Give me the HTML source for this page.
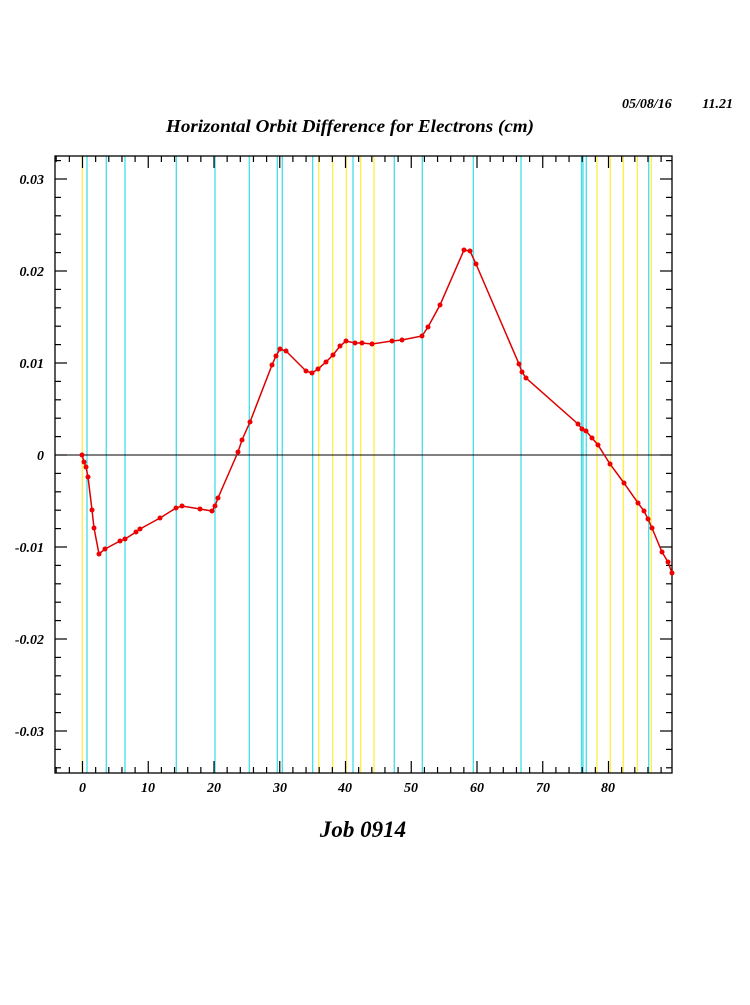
<!DOCTYPE html>
<html><head><meta charset="utf-8"><style>
html,body{margin:0;padding:0;background:#fff;}
svg text{font-family:"Liberation Serif",serif;font-weight:bold;font-style:italic;}
</style></head><body>
<svg width="750" height="1000" viewBox="0 0 750 1000" xmlns="http://www.w3.org/2000/svg">
<rect width="750" height="1000" fill="#fff"/>
<text x="622" y="108" font-size="14">05/08/16</text>
<text x="733" y="108" font-size="14" text-anchor="end">11.21</text>
<text x="166" y="132" font-size="18" textLength="368" lengthAdjust="spacingAndGlyphs">Horizontal Orbit Difference for Electrons (cm)</text>
<g stroke-width="1.3">
<g stroke="#ffee44">
<line x1="82.3" y1="156" x2="82.3" y2="773"/><line x1="318.7" y1="156" x2="318.7" y2="773"/><line x1="332.7" y1="156" x2="332.7" y2="773"/><line x1="346.3" y1="156" x2="346.3" y2="773"/><line x1="360.7" y1="156" x2="360.7" y2="773"/><line x1="374" y1="156" x2="374" y2="773"/><line x1="597" y1="156" x2="597" y2="773"/><line x1="610.3" y1="156" x2="610.3" y2="773"/><line x1="623.3" y1="156" x2="623.3" y2="773"/><line x1="637.3" y1="156" x2="637.3" y2="773"/><line x1="651.3" y1="156" x2="651.3" y2="773"/>
</g>
<g stroke="#44dde8">
<line x1="87" y1="156" x2="87" y2="773"/><line x1="106.3" y1="156" x2="106.3" y2="773"/><line x1="125" y1="156" x2="125" y2="773"/><line x1="176.3" y1="156" x2="176.3" y2="773"/><line x1="215" y1="156" x2="215" y2="773"/><line x1="249.3" y1="156" x2="249.3" y2="773"/><line x1="277.3" y1="156" x2="277.3" y2="773"/><line x1="282.3" y1="156" x2="282.3" y2="773"/><line x1="312.7" y1="156" x2="312.7" y2="773"/><line x1="353" y1="156" x2="353" y2="773"/><line x1="394.3" y1="156" x2="394.3" y2="773"/><line x1="422.3" y1="156" x2="422.3" y2="773"/><line x1="473.3" y1="156" x2="473.3" y2="773"/><line x1="521" y1="156" x2="521" y2="773"/><line x1="581.5" y1="156" x2="581.5" y2="773"/><line x1="583" y1="156" x2="583" y2="773"/><line x1="586.3" y1="156" x2="586.3" y2="773"/><line x1="648.7" y1="156" x2="648.7" y2="773"/>
</g>
</g>
<line x1="55" y1="455" x2="672" y2="455" stroke="#000" stroke-width="1"/>
<rect x="55" y="156" width="617" height="617" fill="none" stroke="#000" stroke-width="1.3"/>
<g id="ticks" stroke="#000" stroke-width="1.2"></g>
<g font-size="14" text-anchor="end">
<text x="44" y="184">0.03</text><text x="44" y="276">0.02</text><text x="44" y="368">0.01</text><text x="44" y="460">0</text><text x="44" y="552">-0.01</text><text x="44" y="644">-0.02</text><text x="44" y="736">-0.03</text>
</g>
<g font-size="14" text-anchor="middle">
<text x="82.5" y="792">0</text><text x="148" y="792">10</text><text x="214" y="792">20</text><text x="280" y="792">30</text><text x="345" y="792">40</text><text x="411" y="792">50</text><text x="477" y="792">60</text><text x="543" y="792">70</text><text x="608" y="792">80</text>
</g>
<text x="363" y="837" font-size="23" text-anchor="middle">Job 0914</text>
<polyline id="curve" fill="none" stroke="#dd0000" stroke-width="1.5" points="82,455 84,462 86,467 88,477 92,510 94,528 99,554 105,549 120,541 125,539 136,532 140,529 160,518 176,508 182,506 200,509 212,511 215,506 218,498 238,452 242,440 250,422 272,365 276,356 280,349 286,351 306,371 312,373 318,369 326,362 333,355 340,346 346,341 355,343 362,343 372,344 392,341 402,340 422,336 428,327 440,305 464,250 470,251 476,264 519,364 522,372 526,378 578,424 582,429 586,431 592,438 598,445 610,464 624,483 638,503 644,511 648,519 652,528 662,552 668,562 672,573"/>
<g id="dots" fill="#ee0000"></g>
</svg>
<script>
var ns="http://www.w3.org/2000/svg",t=document.getElementById("ticks");
function L(a,b,c,d){var l=document.createElementNS(ns,"line");l.setAttribute("x1",a);l.setAttribute("y1",b);l.setAttribute("x2",c);l.setAttribute("y2",d);t.appendChild(l);}
for(var v=-4;v<=88;v+=2){var x=82.5+v*6.575;if(x<56||x>671)continue;var m=(v%10==0)?12:6;L(x,773,x,773-m);L(x,156,x,156+m);}
for(var k=-34;k<=32;k+=2){var y=455-k*9.2;if(y<157||y>772)continue;var m=(k%10==0)?12:6;L(55,y,55+m,y);L(672,y,672-m,y);}
var p=document.getElementById("curve").getAttribute("points").trim().split(/\s+/),d=document.getElementById("dots");
p.forEach(function(s){var q=s.split(",");var c=document.createElementNS(ns,"circle");c.setAttribute("cx",q[0]);c.setAttribute("cy",q[1]);c.setAttribute("r",2.5);d.appendChild(c);});
</script>
</body></html>
